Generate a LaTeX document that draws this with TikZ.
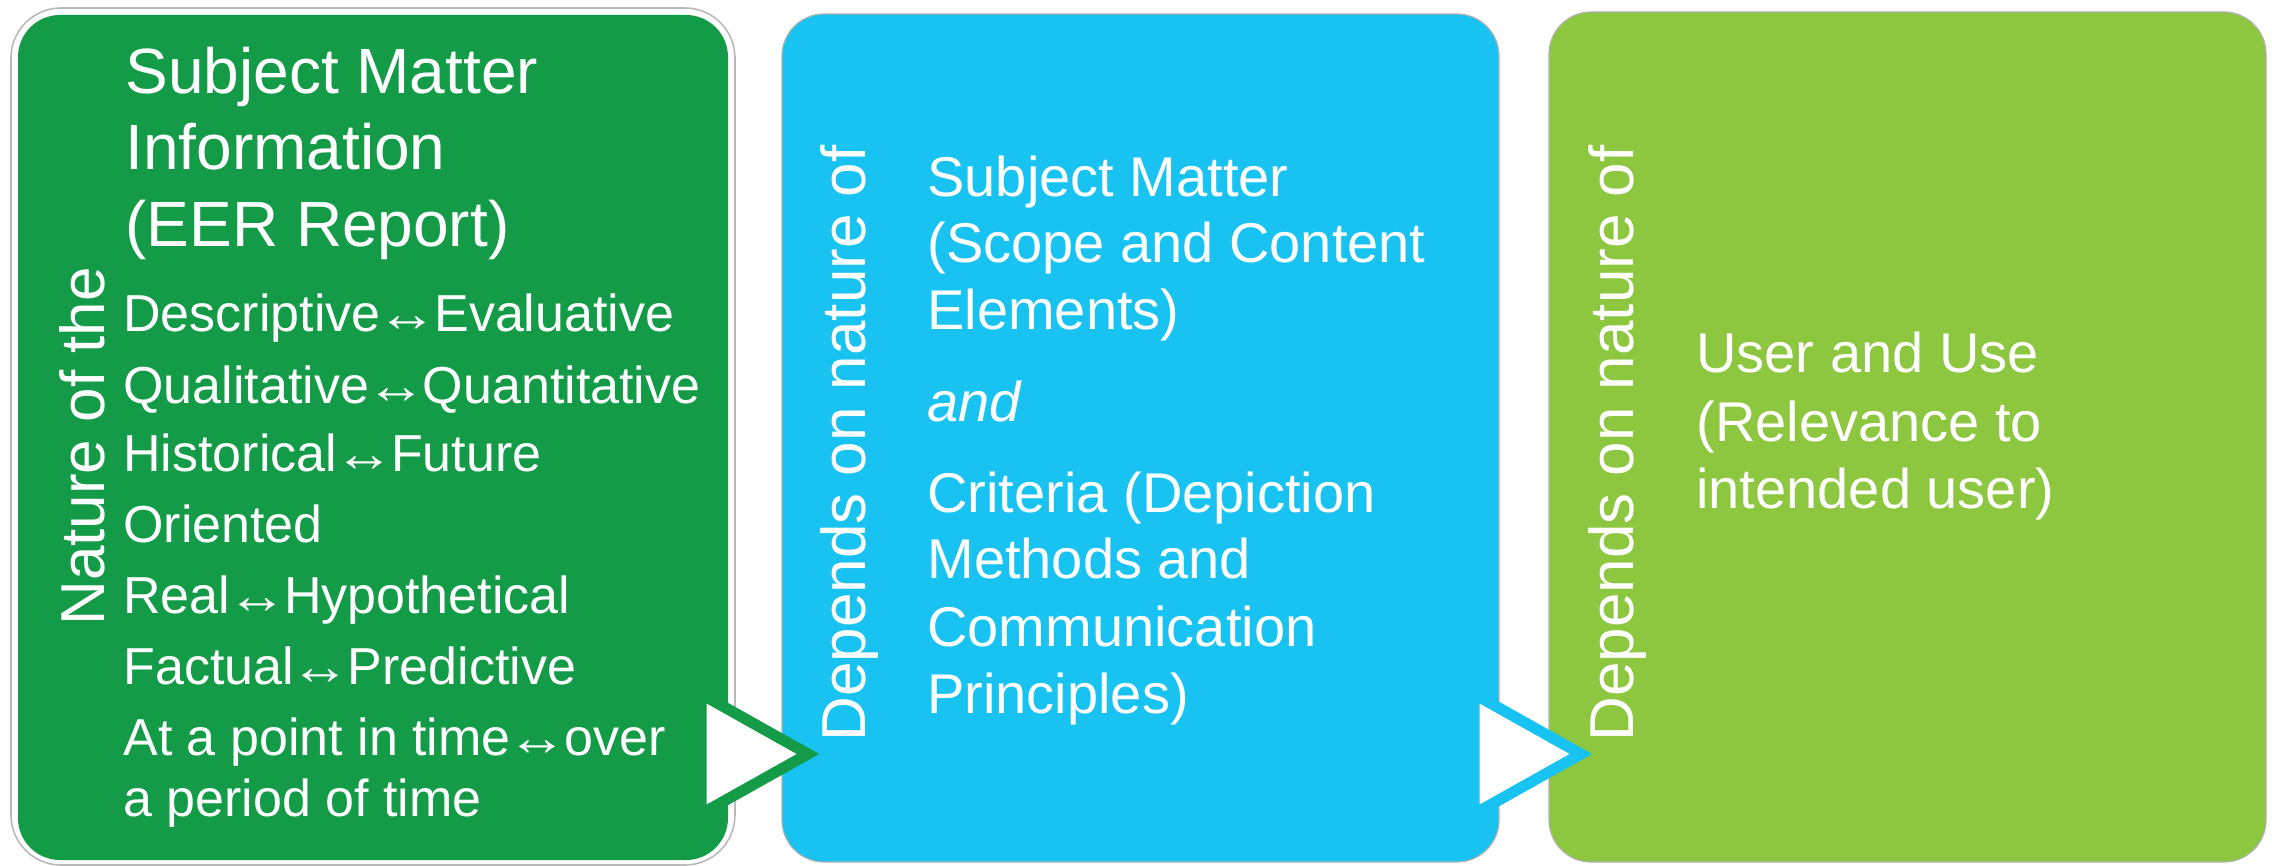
\documentclass[tikz,border=0pt]{standalone}
\usepackage{fontspec}
\usepackage{graphicx}
\setmainfont{Liberation Sans}
\definecolor{boxgreen}{HTML}{139B48}
\definecolor{boxblue}{HTML}{18C3F2}
\definecolor{boxlime}{HTML}{8DC63F}
\newcommand{\lrarr}{\kern-1.5pt\scalebox{1.15}[1]{↔}\kern-1.5pt}
\begin{document}
\begin{tikzpicture}[x=0.5pt,y=-0.5pt,
  panel/.style={rounded corners=21pt},
  txt/.style={text=white, anchor=base west, inner sep=0pt},
  hd/.style={txt, font=\fontsize{32pt}{38pt}\selectfont},
  ls/.style={txt, font=\fontsize{26pt}{31pt}\selectfont},
  bt/.style={txt, font=\fontsize{28pt}{34pt}\selectfont},
  vt/.style={txt, rotate=90, font=\fontsize{31pt}{36pt}\selectfont},
  tri/.style={fill=white, line width=5.5pt, line join=miter}
]
\useasboundingbox (0,0) rectangle (2272,866);
% panels
\draw[panel, rounded corners=25pt, draw=gray!55, line width=0.8pt] (11,8) rectangle (735,865);
\fill[panel, boxgreen] (18,15) rectangle (728,860);
\filldraw[panel, fill=boxblue, draw=gray!60, line width=0.6pt] (782,14) rectangle (1499,862);
\filldraw[panel, fill=boxlime, draw=gray!60, line width=0.6pt] (1549,12) rectangle (2266,862);
% arrows
\coordinate (a1t) at (701,694); \coordinate (a1p) at (808,754); \coordinate (a1b) at (701,814);
\draw[tri, draw=boxgreen] (a1t) -- (a1p) -- (a1b) -- cycle;
\coordinate (a2t) at (1474,694); \coordinate (a2p) at (1581,754); \coordinate (a2b) at (1474,814);
\draw[tri, draw=boxblue] (a2t) -- (a2p) -- (a2b) -- cycle;
% panel 1 text
\node[vt] (nat) at (104,626) {Nature of the};
\node[hd] (h1) at (125,94) {Subject Matter};
\node[hd] (h2) at (125,170) {Information};
\node[hd] (h3) at (125,247) {(EER Report)};
\node[ls] (l1) at (123,332) {Descriptive\lrarr Evaluative};
\node[ls] (l2) at (123,403) {Qualitative\lrarr Quantitative};
\node[ls] (l3) at (123,472) {Historical\lrarr Future};
\node[ls] (l4) at (123,542) {Oriented};
\node[ls] (l5) at (123,613) {Real\lrarr Hypothetical};
\node[ls] (l6) at (123,684) {Factual\lrarr Predictive};
\node[ls] (l7) at (123,755) {At a point in time\lrarr over};
\node[ls] (l8) at (123,816) {a period of time};
% panel 2 text
\node[vt] (dep1) at (865,742) {Depends on nature of};
\node[bt] (b1) at (927,197) {Subject Matter};
\node[bt] (b2) at (927,263) {(Scope and Content};
\node[bt] (b3) at (927,330) {Elements)};
\node[bt, font=\fontsize{28pt}{34pt}\selectfont\itshape] (b4) at (927,422) {and};
\node[bt] (b5) at (927,512) {Criteria (Depiction};
\node[bt] (b6) at (927,578) {Methods and};
\node[bt] (b7) at (927,646) {Communication};
\node[bt] (b8) at (927,713) {Principles)};
% panel 3 text
\node[vt] (dep2) at (1633,742) {Depends on nature of};
\node[bt] (c1) at (1696,372) {User and Use};
\node[bt] (c2) at (1696,442) {(Relevance to};
\node[bt] (c3) at (1696,508) {intended user)};
\end{tikzpicture}
\end{document}
